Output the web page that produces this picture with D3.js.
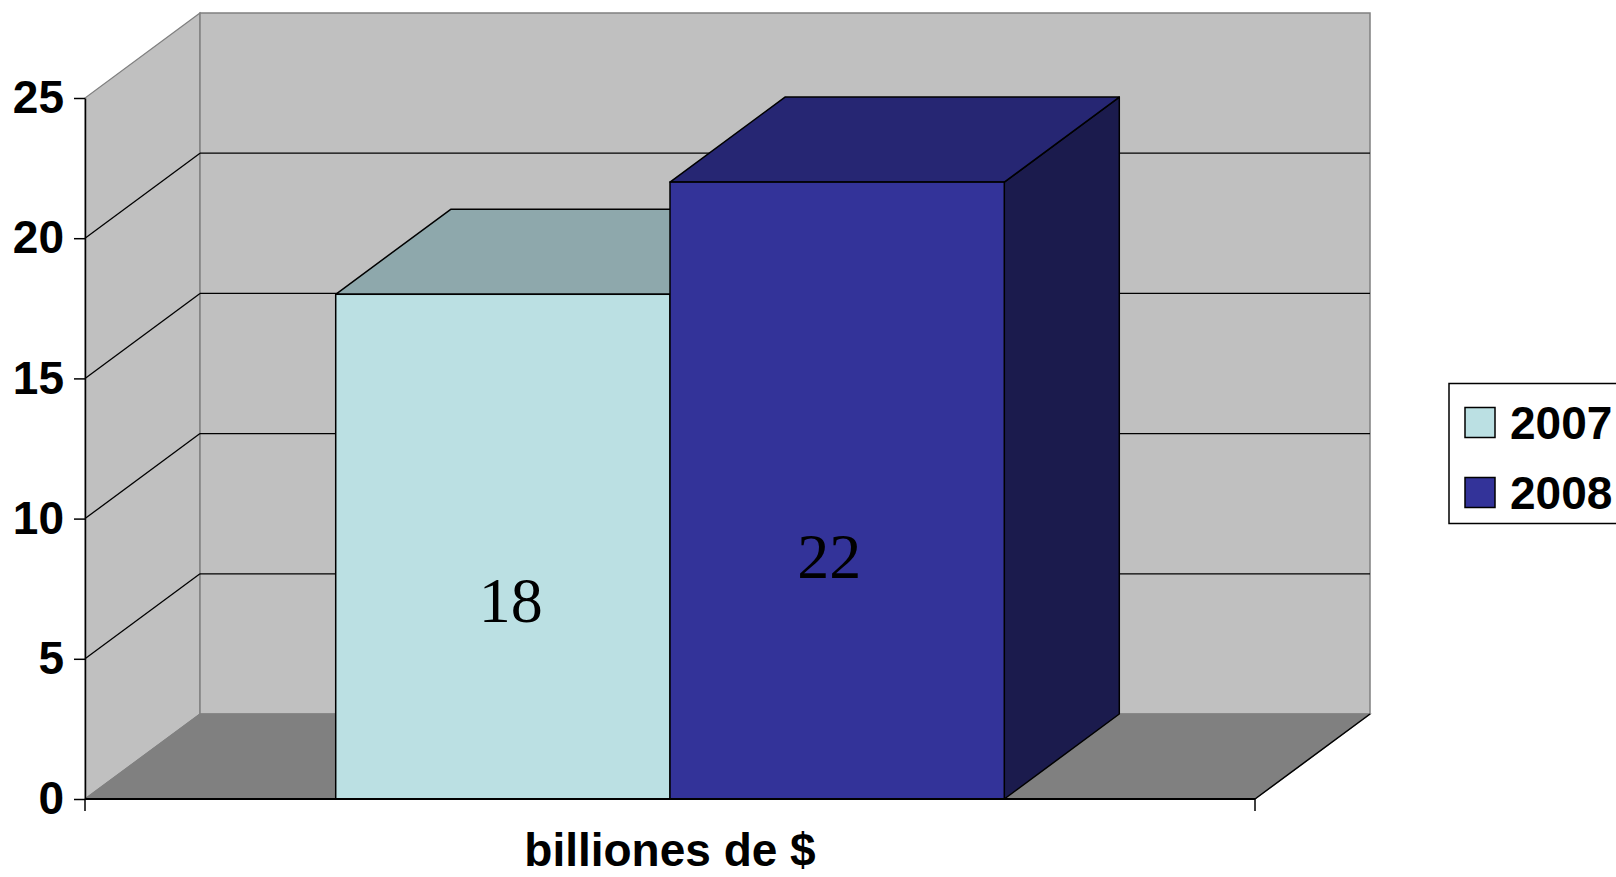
<!DOCTYPE html>
<html>
<head>
<meta charset="utf-8">
<script src="https://cdn.jsdelivr.net/npm/d3@7"></script>
<style>
  html, body { margin: 0; padding: 0; background: #ffffff; }
  svg { display: block; }
</style>
</head>
<body>
<svg id="chart" width="1616" height="877"></svg>
<script>
// ---- data ----
const categories = ["billiones de $"];
const seriesNames = ["2007", "2008"];
const seriesValues = [18, 22];
const yTicks = [0, 5, 10, 15, 20, 25];
const seriesFront = ["#BBE0E3", "#333399"];
const seriesTop = ["#8EA8AC", "#262673"];
const seriesSide = ["#6F8588", "#1B1B4D"];

// ---- layout ----
const W = 1616, H = 877;
const svg = d3.select("#chart");
const depthX = 115, depthY = -85;

const y = d3.scaleLinear().domain([0, 25]).range([799, 98]);
const x0 = d3.scaleBand().domain(categories).range([85, 1255]).paddingInner(0).paddingOuter(0);
const x1 = d3.scaleBand().domain(seriesNames).range([0, x0.bandwidth()]).paddingInner(0).paddingOuter(0.75);

const [xL, xR] = x0.range();
const y0 = y(0), yTop = y(25);
const wallGray = "#C0C0C0", floorGray = "#808080", edgeGray = "#808080";

const g = svg.append("g");
const pts = a => a.map(p => p.join(",")).join(" ");

// left side wall
g.append("polygon")
  .attr("points", pts([[xL, y0], [xL, yTop], [xL + depthX, yTop + depthY], [xL + depthX, y0 + depthY]]))
  .attr("fill", wallGray).attr("stroke", edgeGray).attr("stroke-width", 1.2);
// back wall
g.append("polygon")
  .attr("points", pts([[xL + depthX, yTop + depthY], [xR + depthX, yTop + depthY], [xR + depthX, y0 + depthY], [xL + depthX, y0 + depthY]]))
  .attr("fill", wallGray).attr("stroke", edgeGray).attr("stroke-width", 1.5);
// floor
g.append("polygon")
  .attr("points", pts([[xL, y0], [xR, y0], [xR + depthX, y0 + depthY], [xL + depthX, y0 + depthY]]))
  .attr("fill", floorGray).attr("stroke", edgeGray).attr("stroke-width", 1.2);
// right floor edge (black)
g.append("line")
  .attr("x1", xR).attr("y1", y0).attr("x2", xR + depthX).attr("y2", y0 + depthY)
  .attr("stroke", "#000").attr("stroke-width", 1.5);

// gridlines (exclude 0 and 25 which are edges)
const inner = yTicks.filter(t => t > 0 && t < 25);
g.selectAll(".gside").data(inner).enter().append("line")
  .attr("x1", xL).attr("y1", d => y(d))
  .attr("x2", xL + depthX).attr("y2", d => y(d) + depthY)
  .attr("stroke", "#000").attr("stroke-width", 1.3);
g.selectAll(".gback").data(inner).enter().append("line")
  .attr("x1", xL + depthX).attr("y1", d => y(d) + depthY)
  .attr("x2", xR + depthX).attr("y2", d => y(d) + depthY)
  .attr("stroke", "#000").attr("stroke-width", 1.3);

// bars
const cat = categories[0];
seriesNames.forEach((s, i) => {
  const v = seriesValues[i];
  const bx = x0(cat) + x1(s), bw = x1.bandwidth();
  const yt = y(v);
  const bg = g.append("g");
  // side
  bg.append("polygon")
    .attr("points", pts([[bx + bw, y0], [bx + bw, yt], [bx + bw + depthX, yt + depthY], [bx + bw + depthX, y0 + depthY]]))
    .attr("fill", seriesSide[i]).attr("stroke", "#000").attr("stroke-width", 1.5).attr("stroke-linejoin", "round");
  // top
  bg.append("polygon")
    .attr("points", pts([[bx, yt], [bx + depthX, yt + depthY], [bx + bw + depthX, yt + depthY], [bx + bw, yt]]))
    .attr("fill", seriesTop[i]).attr("stroke", "#000").attr("stroke-width", 1.5).attr("stroke-linejoin", "round");
  // front
  bg.append("rect")
    .attr("x", bx).attr("y", yt).attr("width", bw).attr("height", y0 - yt)
    .attr("fill", seriesFront[i]).attr("stroke", "#000").attr("stroke-width", 1.5);
});

// data labels
const labelShift = [8, -8];
seriesNames.forEach((s, i) => {
  const v = seriesValues[i];
  const bx = x0(cat) + x1(s), bw = x1.bandwidth();
  g.append("text")
    .attr("x", bx + bw / 2 + labelShift[i])
    .attr("y", y(v * 0.39) - 2)
    .attr("text-anchor", "middle")
    .attr("dominant-baseline", "central")
    .attr("font-family", "'Liberation Serif', 'Times New Roman', serif")
    .attr("font-size", 64)
    .attr("fill", "#000")
    .text(v);
});

// y axis
const yAxis = d3.axisLeft(y).tickValues(yTicks).tickSize(11).tickSizeOuter(0).tickPadding(10).tickFormat(d3.format("d"));
const ya = svg.append("g").attr("transform", `translate(${xL},0)`).call(yAxis);
ya.select(".domain").attr("stroke", "#000").attr("stroke-width", 1.5);
ya.selectAll(".tick line").attr("stroke", "#000").attr("stroke-width", 1.5);
ya.selectAll(".tick text")
  .attr("font-family", "'Liberation Sans', Arial, sans-serif")
  .attr("font-weight", "bold")
  .attr("font-size", 46)
  .attr("fill", "#000");

// x axis line + edge ticks
svg.append("line").attr("x1", xL).attr("y1", y0).attr("x2", xR).attr("y2", y0)
  .attr("stroke", "#000").attr("stroke-width", 2);
svg.selectAll(".xtick").data(x0.range()).enter().append("line")
  .attr("x1", d => d).attr("x2", d => d).attr("y1", y0).attr("y2", y0 + 12)
  .attr("stroke", "#000").attr("stroke-width", 1.5);
svg.append("text")
  .attr("x", x0(cat) + x0.bandwidth() / 2)
  .attr("y", 866)
  .attr("text-anchor", "middle")
  .attr("font-family", "'Liberation Sans', Arial, sans-serif")
  .attr("font-weight", "bold")
  .attr("font-size", 46)
  .attr("fill", "#000")
  .text(cat);

// legend
const lg = svg.append("g");
lg.append("rect").attr("x", 1449).attr("y", 383.5).attr("width", 200).attr("height", 140)
  .attr("fill", "#fff").attr("stroke", "#000").attr("stroke-width", 1.5);
seriesNames.forEach((s, i) => {
  const cy = 422.5 + i * 70;
  lg.append("rect").attr("x", 1465).attr("y", cy - 15).attr("width", 30).attr("height", 30)
    .attr("fill", seriesFront[i]).attr("stroke", "#000").attr("stroke-width", 1.5);
  lg.append("text").attr("x", 1510).attr("y", cy)
    .attr("dominant-baseline", "central")
    .attr("font-family", "'Liberation Sans', Arial, sans-serif")
    .attr("font-weight", "bold")
    .attr("font-size", 46)
    .attr("fill", "#000")
    .text(s);
});
</script>
</body>
</html>
